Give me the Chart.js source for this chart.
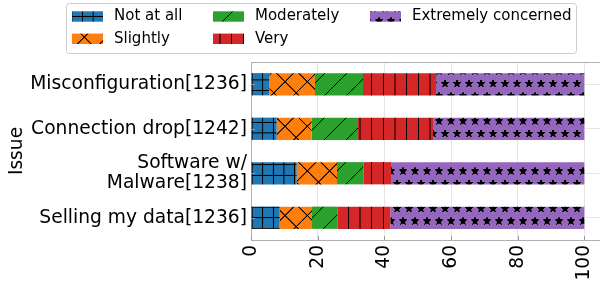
<!DOCTYPE html>
<html><head><meta charset="utf-8">
<script src="https://cdn.jsdelivr.net/npm/chart.js@4/dist/chart.umd.min.js"></script>
<style>html,body{margin:0;padding:0;background:#fff;overflow:hidden}#wrap{width:600px;height:285px;position:relative}</style>
</head><body><div id="wrap"><canvas id="c" width="600" height="285"></canvas></div>
<script>
const categories = ['Misconfiguration[1236]', 'Connection drop[1242]', ['Software w/', 'Malware[1238]'], 'Selling my data[1236]'];
const seriesNames = ['Not at all', 'Slightly', 'Moderately', 'Very', 'Extremely concerned'];
const notAtAll   = [5.5, 7.7, 13.7, 8.6];
const slightly   = [13.7, 10.5, 12.1, 9.7];
const moderately = [14.4, 13.9, 7.9, 7.6];
const very       = [21.9, 22.5, 8.3, 15.9];
const extremely  = [44.5, 45.4, 58.0, 58.2];
const xTicks = [0, 20, 40, 60, 80, 100];
const axisTitle = 'Issue';

const seriesValues = [notAtAll, slightly, moderately, very, extremely];
const colors = ['#1f77b4', '#ff7f0e', '#2ca02c', '#d62728', '#9467bd'];

function makePattern(bg, tileW, tileH, ex, ey, draw) {
  const k = 3;
  const bw = Math.max(1, Math.round(tileW * k)), bh = Math.max(1, Math.round(tileH * k));
  const cv = document.createElement('canvas');
  cv.width = bw; cv.height = bh;
  const g = cv.getContext('2d');
  g.fillStyle = bg; g.fillRect(0, 0, bw, bh);
  g.scale(bw / tileW, bh / tileH);
  g.strokeStyle = '#000'; g.fillStyle = '#000'; g.lineWidth = 1;
  draw(g, tileW, tileH);
  const p = document.createElement('canvas').getContext('2d').createPattern(cv, 'repeat');
  p.setTransform(new DOMMatrix([tileW / bw, 0, 0, tileH / bh, ex, ey]));
  return p;
}
function line(g, x1, y1, x2, y2) { g.beginPath(); g.moveTo(x1, y1); g.lineTo(x2, y2); g.stroke(); }
const drawPlus = (g, w, h) => { for (const o of [0, w]) { line(g, o, -1, o, h + 1); } for (const o of [0, h]) { line(g, -1, o, w + 1, o); } };
const drawV = (g, w, h) => { for (const o of [0, w]) line(g, o, -1, o, h + 1); };
const drawSlash = (g, w, h) => { for (const o of [-w, 0, w]) line(g, o, h, o + w, 0); };
const drawX = (g, w, h) => { for (const o of [-w, 0, w]) { line(g, o, h, o + w, 0); line(g, o, 0, o + w, h); } };
function star(g, cx, cy, R) {
  const r = R * 0.5;
  g.beginPath();
  for (let i = 0; i < 10; i++) {
    const a = -Math.PI / 2 + i * Math.PI / 5;
    const rr = i % 2 === 0 ? R : r;
    const x = cx + rr * Math.cos(a), y = cy + rr * Math.sin(a);
    if (i === 0) g.moveTo(x, y); else g.lineTo(x, y);
  }
  g.closePath(); g.fill();
}
const drawStars = (g, w, h) => {
  for (const dx of [-w, 0, w]) for (const dy of [-h, 0, h]) {
    star(g, 1 + dx, 8.5 + dy, 4.6);
    star(g, 7 + dx, 21 + dy, 4.6);
  }
};

const patterns = [
  makePattern(colors[0], 10.6, 10.6, 8.3, 5.7, drawPlus),
  makePattern(colors[1], 22.3, 22.3, 17.4, 14.8, drawX),
  makePattern(colors[2], 22, 22, 2, 0, drawSlash),
  makePattern(colors[3], 11.67, 11.67, 9.9, 0, drawV),
  makePattern(colors[4], 12, 25, 0, 0, drawStars)
];

Chart.defaults.font.family = 'DejaVu Sans';
Chart.defaults.color = '#000';

const frameColor = '#b0b0b0';
const gridColor = '#e5e5e5';

const extrasPlugin = {
  id: 'extras',
  afterDatasetsDraw(chart) {
    const { ctx, chartArea: a, scales } = chart;
    ctx.save();
    ctx.strokeStyle = frameColor; ctx.lineWidth = 1;
    ctx.beginPath(); ctx.moveTo(a.left, a.top + 0.5); ctx.lineTo(a.right, a.top + 0.5); ctx.stroke();
    ctx.strokeStyle = '#999';
    for (const v of xTicks) {
      const px = Math.round(scales.x.getPixelForValue(v)) + 0.5;
      ctx.beginPath(); ctx.moveTo(px, a.bottom); ctx.lineTo(px, a.bottom - 4); ctx.stroke();
    }
    categories.forEach((c, i) => {
      const py = Math.round(scales.y.getPixelForValue(i)) + 0.5;
      ctx.beginPath(); ctx.moveTo(a.left, py); ctx.lineTo(a.left + 4, py); ctx.stroke();
    });
    ctx.restore();
  },
  afterDraw(chart) {
    const ctx = chart.ctx;
    ctx.save();
    ctx.beginPath();
    ctx.roundRect(66.5, 3.5, 510, 50, 3);
    ctx.fillStyle = 'rgba(255,255,255,0.8)'; ctx.fill();
    ctx.strokeStyle = '#cccccc'; ctx.lineWidth = 1; ctx.stroke();
    const pos = [[72, 16.5], [72, 38.8], [213, 16.5], [213, 38.8], [370, 16.5]];
    ctx.font = '15px "DejaVu Sans"';
    ctx.textBaseline = 'middle'; ctx.textAlign = 'left';
    seriesNames.forEach((n, i) => {
      const [x, y] = pos[i];
      ctx.fillStyle = patterns[i];
      ctx.fillRect(x, y - 5.2, 31, 10.4);
      ctx.fillStyle = '#000';
      ctx.fillText(n, x + 42, y);
    });
    ctx.restore();
  }
};

new Chart(document.getElementById('c'), {
  type: 'bar',
  data: {
    labels: categories,
    datasets: seriesNames.map((n, i) => ({
      label: n,
      data: seriesValues[i],
      backgroundColor: patterns[i],
      borderWidth: 0,
      barPercentage: 0.5,
      categoryPercentage: 1.0
    }))
  },
  options: {
    indexAxis: 'y',
    responsive: false,
    animation: false,
    devicePixelRatio: 1,
    layout: { padding: { top: 62, left: 0, right: 0, bottom: 0 } },
    plugins: { legend: { display: false }, tooltip: { enabled: false } },
    scales: {
      x: {
        type: 'linear', stacked: true, min: 0, max: 104.7,
        grid: { color: gridColor, drawTicks: false },
        border: { display: true, color: frameColor },
        ticks: { autoSkip: false, maxRotation: 90, minRotation: 90, padding: 5, color: '#000', font: { size: 18.67 } },
        afterBuildTicks: s => { s.ticks = xTicks.map(v => ({ value: v })); },
        afterFit: s => { s.height = 45; s.paddingLeft = 0; s.paddingRight = 0; }
      },
      y: {
        type: 'category', stacked: true, offset: true,
        grid: { color: gridColor, offset: false, drawTicks: false },
        border: { display: true, color: frameColor },
        ticks: { padding: 4, color: '#000', font: { size: 18.67, lineHeight: 1.03 } },
        title: { display: true, text: axisTitle, color: '#000', font: { size: 18.67 }, padding: { top: 5.5, bottom: 0 } },
        afterFit: s => { s.width = 251; s.paddingTop = 0; s.paddingBottom = 0; }
      }
    }
  },
  plugins: [extrasPlugin]
});
</script>
</body></html>
